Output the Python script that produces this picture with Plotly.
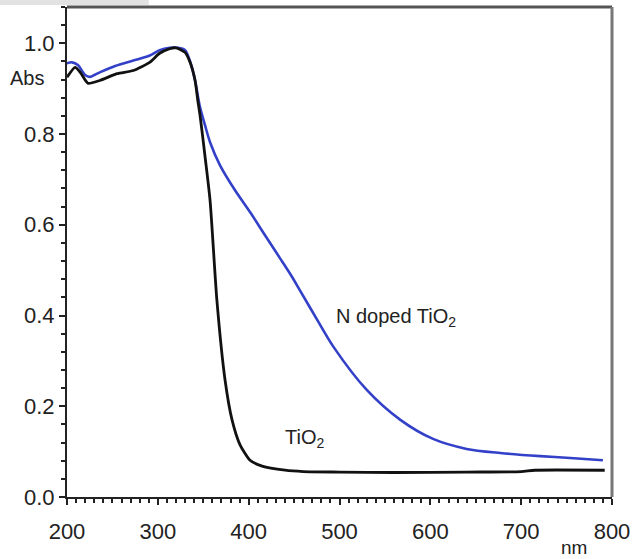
import plotly.graph_objects as go

# TiO2 (black)
tio2_nm = [200, 209, 215, 223, 236, 255, 273, 291, 302, 313, 320, 330, 335.5, 341, 344,
           346.5, 352, 357.5, 365, 374, 381.7, 390.5, 401.5, 414.8, 440, 460, 500, 560, 640, 700, 715, 792]
tio2_abs = [0.925, 0.947, 0.935, 0.912, 0.918, 0.933, 0.94, 0.958, 0.978, 0.988, 0.99, 0.98, 0.958, 0.918, 0.874,
            0.841, 0.75, 0.654, 0.434, 0.258, 0.170, 0.115, 0.081, 0.068, 0.059, 0.056, 0.055, 0.054, 0.055, 0.056, 0.059, 0.059]

# N doped TiO2 (blue)
ntio2_nm = [200, 205.5, 212, 220, 225, 236, 253, 273, 291, 302, 313, 322, 330, 335.5, 341,
            346, 352, 357.5, 368.5, 385, 401.5, 418, 434.6, 447.8, 456.6, 475, 493, 530, 567, 603, 640, 677, 721, 754, 790]
ntio2_abs = [0.956, 0.958, 0.952, 0.93, 0.926, 0.936, 0.95, 0.962, 0.973, 0.985, 0.99, 0.99, 0.985, 0.96, 0.918,
             0.863, 0.819, 0.782, 0.731, 0.676, 0.628, 0.577, 0.526, 0.485, 0.455, 0.392, 0.332, 0.236, 0.170, 0.128, 0.106, 0.097, 0.090, 0.086, 0.081]

x_ticks = [200, 300, 400, 500, 600, 700, 800]
y_ticks = [0.0, 0.2, 0.4, 0.6, 0.8, 1.0]

FONT = "Liberation Sans, Arial, Helvetica, sans-serif"

fig = go.Figure()
fig.add_trace(go.Scatter(x=ntio2_nm, y=ntio2_abs, mode="lines", line=dict(color="#3340c8", width=2.6, shape="spline", smoothing=0.8),
                         name="N doped TiO2", showlegend=False))
fig.add_trace(go.Scatter(x=tio2_nm, y=tio2_abs, mode="lines", line=dict(color="#111111", width=2.8, shape="spline", smoothing=0.6),
                         name="TiO2", showlegend=False))

fig.update_layout(
    width=635, height=559,
    margin=dict(l=67, r=23, t=7, b=62, autoexpand=False),
    paper_bgcolor="white", plot_bgcolor="white",
    font=dict(family=FONT, size=22, color="#222222"),
    xaxis=dict(range=[200, 800], tickvals=x_ticks, ticks="outside", ticklen=6, tickwidth=2, tickcolor="#222",
               showline=True, linecolor="#222", linewidth=2, mirror=False, showgrid=False, zeroline=False,
               automargin=False, ticklabelstandoff=8,
               minor=dict(dtick=10, ticks="outside", ticklen=4, tickwidth=1.5, tickcolor="#222", showgrid=False),
               tickfont=dict(size=22)),
    yaxis=dict(range=[0, 1.08], tickvals=y_ticks, tickformat=".1f", ticks="outside", ticklen=6, tickwidth=2, tickcolor="#222",
               showline=True, linecolor="#222", linewidth=2, mirror=False, showgrid=False, zeroline=False,
               automargin=False,
               minor=dict(dtick=0.04, ticks="outside", ticklen=4, tickwidth=1.5, tickcolor="#222", showgrid=False),
               tickfont=dict(size=22)),
)

# top and right frame lines (gray)
fig.add_shape(type="line", xref="paper", yref="paper", x0=0, x1=1, y0=1, y1=1, line=dict(color="#555", width=3))
fig.add_shape(type="line", xref="paper", yref="paper", x0=1, x1=1, y0=0, y1=1, line=dict(color="#777", width=3))
# faint strip at the very top-left of the image
fig.add_shape(type="rect", xref="paper", yref="paper", x0=-0.123, x1=0.15, y0=1.0043, y1=1.0143,
              line=dict(width=0), fillcolor="#e2e2e2")

fig.add_annotation(text="Abs", xref="paper", yref="paper", x=-0.073, y=0.855, showarrow=False,
                   font=dict(size=20), xanchor="center", yanchor="middle")
fig.add_annotation(text="nm", xref="paper", yref="paper", x=0.93, y=-0.104, showarrow=False,
                   font=dict(size=19), xanchor="center", yanchor="middle")
fig.add_annotation(text="N doped TiO<sub>2</sub>", x=562, y=0.395, showarrow=False,
                   font=dict(size=20), xanchor="center", yanchor="middle")
fig.add_annotation(text="TiO<sub>2</sub>", x=461, y=0.13, showarrow=False,
                   font=dict(size=20), xanchor="center", yanchor="middle")

fig.write_html("out.html", config={"displayModeBar": False},
               post_script="document.body.style.margin='0px';")
